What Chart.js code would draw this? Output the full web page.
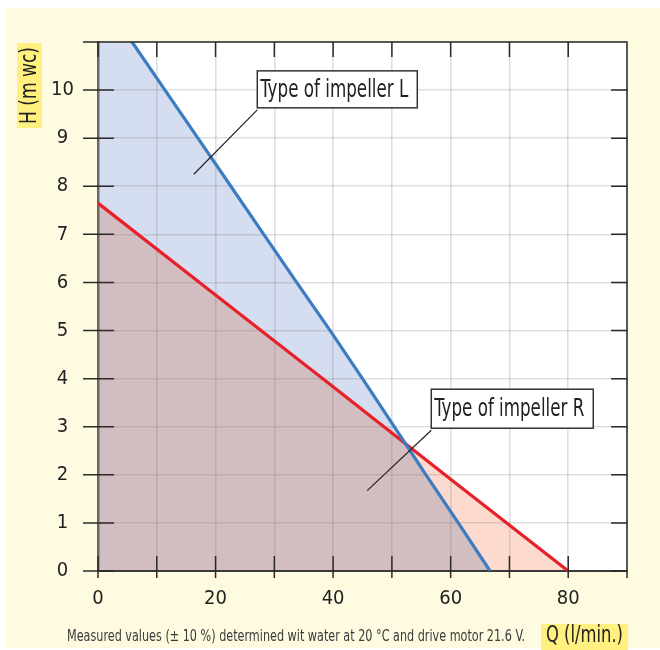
<!DOCTYPE html>
<html><head><meta charset="utf-8">
<script src="https://cdn.jsdelivr.net/npm/chart.js@4"></script>
<style>
html,body{margin:0;padding:0;background:#fff;}
#wrap{position:relative;width:660px;height:650px;}
#c{display:block;background:
 linear-gradient(#fff,#fff) 98px 42px/529px 529px no-repeat,
 linear-gradient(#FFFBE1,#FFFBE1) 6px 8px/654px 640px no-repeat, #fff;}
</style></head><body>
<div id="wrap"><canvas id="c"></canvas></div>
<script>
// ---- data ----
const xTitle = 'Q (l/min.)';
const yTitle = 'H (m wc)';
const footnote = 'Measured values (\u00B1 10 %) determined wit water at 20 \u00B0C and drive motor 21.6 V.';
const labelL = 'Type of impeller L';
const labelR = 'Type of impeller R';
const xTickValues = [0, 10, 20, 30, 40, 50, 60, 70, 80, 90];
const xTickLabels = ['0', '', '20', '', '40', '', '60', '', '80', ''];
const yTickValues = [0, 1, 2, 3, 4, 5, 6, 7, 8, 9, 10, 11];
const yTickLabels = ['0', '1', '2', '3', '4', '5', '6', '7', '8', '9', '10', ''];
const blueQ = [0, 5.8, 11.4, 17.0, 22.6, 28.2, 33.8, 39.5, 45.0, 50.4, 55.8, 61.3, 66.7];
const blueH = [12.05, 11, 10, 9, 8, 7, 6, 5, 4, 3, 2, 1, 0];
const redQ = [0, 20, 40, 60, 80];
const redH = [7.65, 5.74, 3.83, 1.91, 0];

// ---- styles / annotation placement ----
const NARROW = "'Liberation Sans Narrow','Arial Narrow','DejaVu Sans Condensed',sans-serif";
const callouts = [
  {text: labelL, q: 27.1, h: 10.4, tipQ: 16.3, tipH: 8.25, w: 160, hgt: 37, textW: 148},
  {text: labelR, q: 56.7, h: 3.78, tipQ: 45.8, tipH: 1.67, w: 162, hgt: 39, textW: 150}
];

function pts(xs, ys) { return xs.map((v, i) => ({x: v, y: ys[i]})); }

function fitText(ctx, text, x, y, targetW, font, align) {
  ctx.font = font;
  const w = ctx.measureText(text).width;
  const s = targetW / w;
  ctx.save();
  ctx.translate(x, y);
  ctx.scale(s, 1);
  ctx.textAlign = 'left';
  let ox = 0;
  if (align === 'center') ox = -w / 2;
  ctx.fillText(text, ox, 0);
  ctx.restore();
}

const decor = {
  id: 'decor',
  beforeRender(chart) { chart.ctx.globalCompositeOperation = 'multiply'; },
  beforeDraw(chart) { chart.ctx.globalCompositeOperation = 'source-over'; },
  afterDatasetsDraw(chart) {
    const {ctx, chartArea: a, scales: {x, y}} = chart;
    ctx.save();
    ctx.globalCompositeOperation = 'source-over';
    ctx.strokeStyle = '#2a2a2a';
    ctx.lineWidth = 1.5;
    ctx.beginPath();
    ctx.moveTo(a.left - 7, a.top); ctx.lineTo(a.right, a.top); ctx.lineTo(a.right, a.bottom + 7);
    x.ticks.forEach((t, i) => {
      const px = x.getPixelForTick(i);
      ctx.moveTo(px, a.bottom - 15); ctx.lineTo(px, a.bottom + 7);
      ctx.moveTo(px, a.top); ctx.lineTo(px, a.top + 15);
    });
    y.ticks.forEach((t, i) => {
      const py = y.getPixelForTick(i);
      ctx.moveTo(a.left - 15, py); ctx.lineTo(a.left + 16, py);
      ctx.moveTo(a.right - 16, py); ctx.lineTo(a.right, py);
    });
    ctx.stroke();

    // callouts
    callouts.forEach(c => {
      const l = x.getPixelForValue(c.q), t = y.getPixelForValue(c.h);
      const tx = x.getPixelForValue(c.tipQ), ty = y.getPixelForValue(c.tipH);
      ctx.strokeStyle = '#222'; ctx.lineWidth = 1.2;
      ctx.beginPath(); ctx.moveTo(l, t + c.hgt + 2); ctx.lineTo(tx, ty); ctx.stroke();
      ctx.fillStyle = '#fff';
      ctx.fillRect(l, t, c.w, c.hgt);
      ctx.strokeStyle = '#333'; ctx.lineWidth = 1.5;
      ctx.strokeRect(l, t, c.w, c.hgt);
      ctx.fillStyle = '#222';
      ctx.textBaseline = 'alphabetic';
      fitText(ctx, c.text, l + 3, t + 26 + (c.hgt - 37) / 2, c.textW, '25px ' + NARROW, 'left');
    });
    ctx.restore();
  },
  afterDraw(chart) {
    const {ctx, chartArea: a} = chart;
    ctx.save();
    // y title
    ctx.fillStyle = '#FFF07F';
    ctx.fillRect(17, a.top + 1, 25, 85);
    ctx.fillStyle = '#222';
    ctx.translate(29.5, a.top + 43.5);
    ctx.rotate(-Math.PI / 2);
    ctx.textBaseline = 'middle';
    fitText(ctx, yTitle, 0, 1, 77, '23px ' + NARROW, 'center');
    ctx.restore();
    ctx.save();
    // x title
    ctx.fillStyle = '#FFF07F';
    ctx.fillRect(a.right - 86, 624, 87, 26);
    ctx.fillStyle = '#222';
    ctx.textBaseline = 'middle';
    fitText(ctx, xTitle, a.right - 42.5, 636, 77, '23px ' + NARROW, 'center');
    // footnote
    ctx.fillStyle = '#3a3a3a';
    fitText(ctx, footnote, 67, 637, 458, '16px ' + NARROW, 'left');
    ctx.restore();
  }
};

new Chart(document.getElementById('c'), {
  type: 'line',
  data: {
    datasets: [
      {label: 'Type of impeller L', data: pts(blueQ, blueH), borderColor: '#3C7CC0', borderWidth: 3.2,
       backgroundColor: '#D5DEF0', fill: 'origin', pointRadius: 0, tension: 0, clip: 0},
      {label: 'Type of impeller R', data: pts(redQ, redH), borderColor: '#E8202A', borderWidth: 3.2,
       backgroundColor: '#FCDACD', fill: 'origin', pointRadius: 0, tension: 0, clip: 0}
    ]
  },
  options: {
    responsive: true, maintainAspectRatio: false, animation: false,
    layout: {padding: {top: 42, right: 33, left: 0, bottom: 0}},
    plugins: {legend: {display: false}, tooltip: {enabled: false}, filler: {drawTime: 'beforeDraw'}},
    scales: {
      x: {
        type: 'linear', min: 0, max: 90,
        afterFit: s => { s.height = 79; },
        afterBuildTicks: s => { s.ticks = xTickValues.map(v => ({value: v})); },
        ticks: {autoSkip: false, maxRotation: 0, padding: 16, color: '#222',
          font: {family: NARROW, size: 20},
          callback: (v) => { const i = xTickValues.indexOf(v); return i >= 0 ? xTickLabels[i] : ''; }},
        grid: {color: 'rgba(110,110,118,0.22)', lineWidth: 1.6, drawTicks: false},
        border: {display: true, color: '#3a3a3a', width: 2}
      },
      y: {
        type: 'linear', min: 0, max: 11,
        afterFit: s => { s.width = 98; },
        afterBuildTicks: s => { s.ticks = yTickValues.map(v => ({value: v})); },
        ticks: {autoSkip: false, padding: 24, crossAlign: 'center', color: '#222',
          font: {family: NARROW, size: 20},
          callback: (v) => { const i = yTickValues.indexOf(v); return i >= 0 ? yTickLabels[i] : ''; }},
        grid: {color: 'rgba(110,110,118,0.22)', lineWidth: 1.6, drawTicks: false},
        border: {display: true, color: '#686868', width: 2.5}
      }
    }
  },
  plugins: [decor]
});
</script>
</body></html>
